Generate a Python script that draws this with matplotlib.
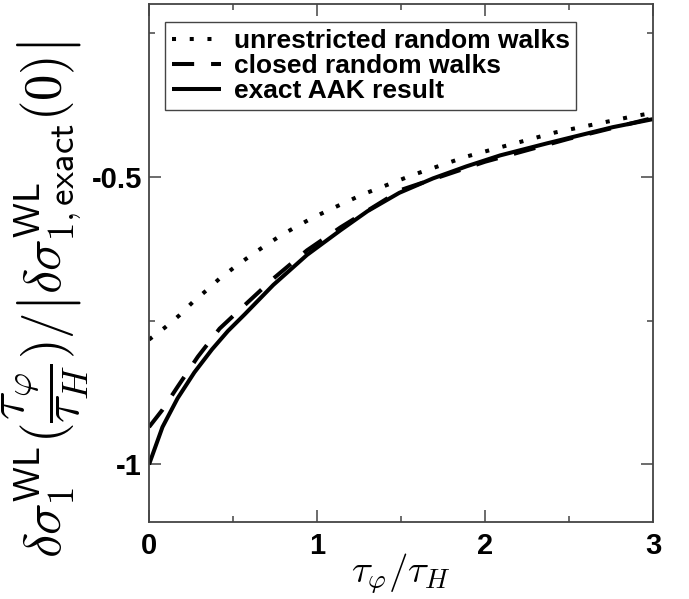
import numpy as np
import matplotlib
matplotlib.use("Agg")
from matplotlib import pyplot as plt
from matplotlib.ticker import MultipleLocator

plt.rcParams['mathtext.fontset'] = 'cm'
plt.rcParams['font.family'] = ['Liberation Sans', 'DejaVu Sans']

#%% data
# exact AAK result (solid)
x_exact = [0, 0.08, 0.17, 0.27, 0.375, 0.47, 0.57, 0.74, 0.94, 1.14, 1.3, 1.49,
           1.69, 1.89, 2.09, 2.37, 2.76, 3.0]
y_exact = [-1.0, -0.935, -0.885, -0.84, -0.80, -0.768, -0.739, -0.688, -0.636,
           -0.593, -0.560, -0.528, -0.503, -0.482, -0.463, -0.442, -0.414, -0.40]
# closed random walks (dashed)
x_closed = [0, 0.08, 0.17, 0.29, 0.42, 0.57, 0.74, 0.94, 1.14, 1.5, 2.0, 2.5, 3.0]
y_closed = [-0.935, -0.905, -0.865, -0.813, -0.764, -0.723, -0.677, -0.628,
            -0.588, -0.523, -0.474, -0.434, -0.398]
# unrestricted random walks (dotted)
x_unres = [0, 0.095, 0.18, 0.26, 0.34, 0.42, 0.51, 0.6, 0.69, 0.78, 0.875, 0.97,
           1.07, 1.27, 1.57, 1.89, 2.09, 2.42, 2.85, 3.0]
y_unres = [-0.783, -0.762, -0.741, -0.718, -0.698, -0.677, -0.657, -0.638, -0.62,
           -0.603, -0.587, -0.572, -0.558, -0.531, -0.497, -0.465, -0.449, -0.423,
           -0.397, -0.389]

xticks = [0, 1, 2, 3]
yticks = [-1, -0.5]
ytick_labels = ['-1', '-0.5']

#%% plot
fig = plt.figure(figsize=(6.89, 5.99), dpi=100)
ax = fig.add_axes([0.2163, 0.1285, 0.7315, 0.8648])

lw = 2.9
ax.plot(x_unres, y_unres, color='black', lw=lw, linestyle=(0, (1, 3.4)),
        dash_capstyle='butt', label='unrestricted random walks')
ax.plot(x_closed, y_closed, color='black', lw=lw, linestyle=(0, (5.5, 4.2)),
        dash_capstyle='butt', label='closed random walks')
ax.plot(x_exact, y_exact, color='black', lw=lw, solid_capstyle='butt',
        label='exact AAK result')

ax.set_xlim(0, 3)
ax.set_ylim(-1.1, -0.2)
ax.set_xticks(xticks)
ax.set_xticklabels([str(t) for t in xticks])
ax.set_yticks(yticks)
ax.set_yticklabels(ytick_labels)
ax.xaxis.set_minor_locator(MultipleLocator(0.5))
ax.yaxis.set_minor_locator(MultipleLocator(0.25))

spine_col = '#444444'
for s in ax.spines.values():
    s.set_color(spine_col)
    s.set_linewidth(1.3)
ax.tick_params(which='both', direction='in', top=True, right=True,
               color=spine_col, width=1.1)
ax.tick_params(which='major', length=8.5)
ax.tick_params(which='minor', length=4.5)
ax.tick_params(axis='x', which='major', labelsize=21, pad=7)
ax.tick_params(axis='y', which='major', labelsize=21, pad=5)
for lab in ax.get_xticklabels() + ax.get_yticklabels():
    lab.set_fontweight('bold')

ax.set_xlabel(r'$\tau_\varphi/\tau_H$', fontsize=28, va='center')
ax.xaxis.set_label_coords(0.5, -0.1, transform=ax.transAxes)
ax.set_ylabel(r'$\delta\sigma_1^{\mathsf{WL}}(\dfrac{\tau_\varphi}{\tau_H})'
              r'/\left|\delta\sigma_{1,\mathsf{exact}}^{\mathsf{WL}}(\mathsf{0})\right|$',
              fontsize=38)
ax.yaxis.set_label_coords(-0.115, 0.43, transform=ax.transAxes)

leg = ax.legend(loc='upper left', bbox_to_anchor=(0.032, 0.965), borderaxespad=0,
                prop={'weight': 'bold', 'size': 19}, handlelength=1.85,
                handletextpad=0.5, borderpad=0.25, labelspacing=0.05,
                fancybox=False, framealpha=1)
leg.get_frame().set_edgecolor(spine_col)
leg.get_frame().set_linewidth(1.0)

plt.savefig("out.png", dpi=100)
